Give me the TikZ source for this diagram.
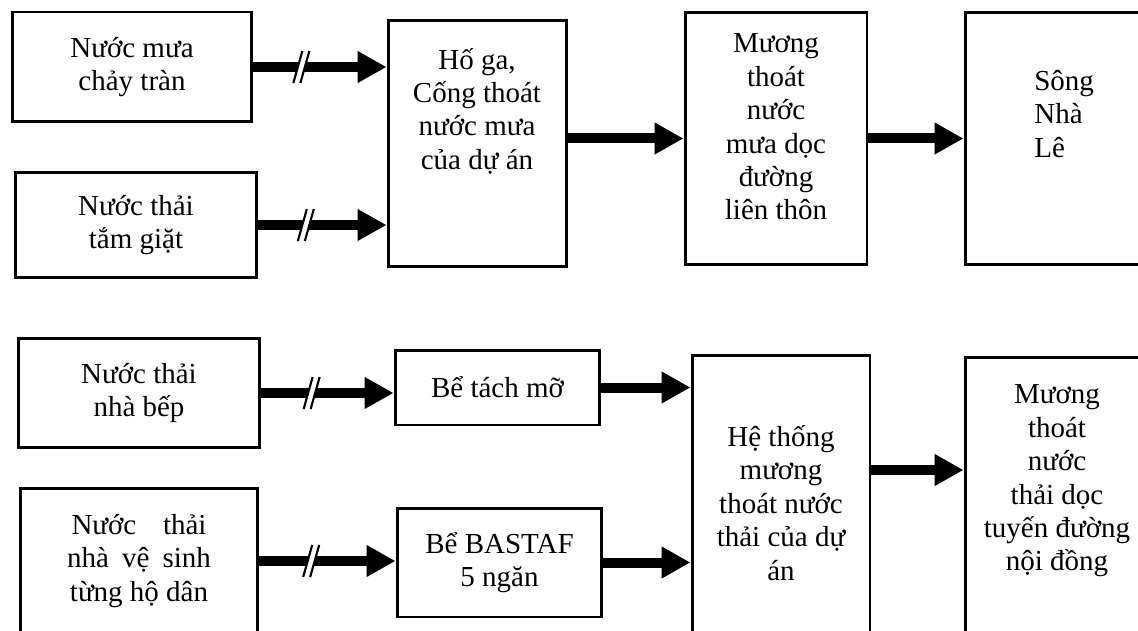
\documentclass[tikz,border=0pt]{standalone}
\usepackage{fontspec}
\setmainfont{Liberation Serif}
\usepackage{tikz}
\usetikzlibrary{arrows.meta, positioning}

\newcommand\boxfont{\fontsize{16.5}{19}\selectfont}

\tikzset{
  box/.style  = {draw, line width=1.7pt, align=center, font=\boxfont, inner sep=0pt},
  note/.style = {align=center, font=\boxfont, inner sep=0pt},
  flow/.style = {line width=0.2cm, -{Triangle[length=0.58cm, width=0.6cm]}},
  brk/.pic    = {
    \fill[white] (-5.5,7) -- (-1.5,-7) -- (5.5,-7) -- (1.5,7) -- cycle;
    \draw[line width=1.2pt] (-8,16) -- (1,-16) (-1,16) -- (8,-16);
  },
}

\begin{document}
\begin{tikzpicture}[x=0.02cm, y=-0.02cm]

\useasboundingbox (0,0) rectangle (1138,631);
\clip (0,0) rectangle (1138,631);

% rain water line
\node [box, minimum width=4.8cm , minimum height=2.2cm ] (rain)   at (132,67)     {Nước mưa\\chảy tràn};
\node [box, minimum width=4.84cm, minimum height=2.12cm] (wash)   at (136,225)    {Nước thải\\tắm giặt};
\node [box, minimum width=3.58cm, minimum height=4.94cm] (hoga)   at (477.5,143.5) {};
\node [box, minimum width=3.64cm, minimum height=5.06cm] (ditch)  at (776,138.5)  {};
\node [box, minimum width=3.7cm , minimum height=5.06cm] (river)  at (1057.5,138.5) {};

\node [note] (hogatxt)  at (477,111)  {Hố ga,\\Cống thoát\\nước mưa\\của dự án};
\node [note] (ditchtxt) at (776,127)  {Mương\\thoát\\nước\\mưa dọc\\đường\\liên thôn};
\node [note, align=left, anchor=west] (rivertxt) at (1034,114) {Sông\\Nhà\\Lê};

% waste water line
\node [box, minimum width=4.84cm, minimum height=2.2cm ] (kitchen) at (139,393)    {Nước thải\\nhà bếp};
\node [box, minimum width=4.76cm, minimum height=2.92cm] (toilet)  at (139,561)
      {\makebox[2.7cm][s]{Nước thải}\\\makebox[2.88cm][s]{nhà vệ sinh}\\từng hộ dân};
\node [box, minimum width=4.1cm , minimum height=1.5cm ] (grease)  at (497.5,387.5) {Bể tách mỡ};
\node [box, minimum width=4.1cm , minimum height=2.18cm] (bastaf)  at (499.5,562.5) {Bể BASTAF\\5 ngăn};
\node [box, minimum width=3.56cm, minimum height=6.2cm ] (system)  at (781,510)    {};
\node [box, minimum width=3.7cm , minimum height=6.06cm] (canal)   at (1057.5,508.5) {};

\node [note] (systemtxt) at (781,503)  {Hệ thống\\mương\\thoát nước\\thải của dự\\án};
\node [note] (canaltxt)  at (1057,481) {Mương\\thoát\\nước\\thải dọc\\tuyến đường\\nội đồng};

\draw [flow] (rain.east)    -- coordinate[pos=.36] (cut1) (rain.east -| hoga.west);
\draw [flow] (wash.east)    -- coordinate[pos=.37] (cut2) (wash.east -| hoga.west);
\draw [flow] (ditch.west -| hoga.east) -- (ditch.west);
\draw [flow] (ditch.east)   -- (river.west);

\draw [flow] (kitchen.east) -- coordinate[pos=.38] (cut3) (kitchen.east -| grease.west);
\draw [flow] (toilet.east)  -- coordinate[pos=.38] (cut4) (toilet.east -| bastaf.west);
\draw [flow] (grease.east)  -- (grease.east -| system.west);
\draw [flow] (bastaf.east)  -- (bastaf.east -| system.west);
\draw [flow] ([yshift=8mm]system.east) -- ([yshift=8mm]system.east -| canal.west);

\foreach \c in {cut1, cut2, cut3, cut4}
  \pic at (\c) {brk};

\end{tikzpicture}
\end{document}
